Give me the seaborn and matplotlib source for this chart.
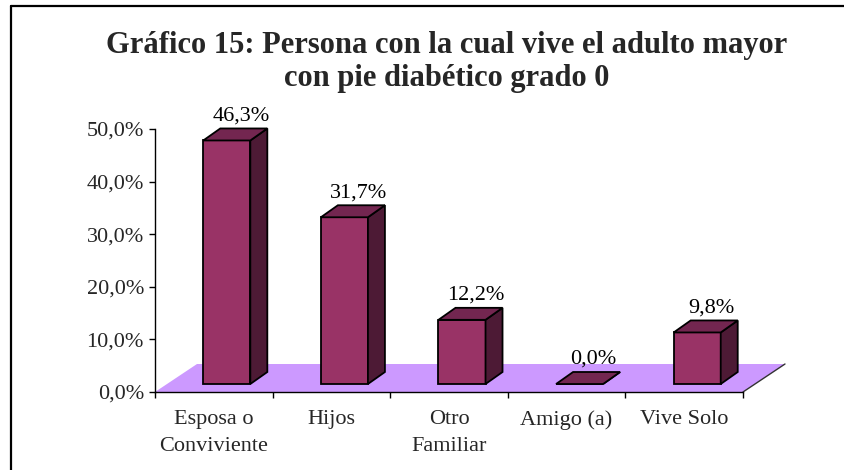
import matplotlib
matplotlib.use("Agg")
import matplotlib.pyplot as plt
import seaborn as sns
from matplotlib.patches import Polygon
from matplotlib.lines import Line2D
from matplotlib.ticker import FixedLocator, FuncFormatter

# Data
categories = ["Esposa o\nConviviente", "Hijos", "Otro\nFamiliar", "Amigo (a)", "Vive Solo"]
values = [46.3, 31.7, 12.2, 0.0, 9.8]
y_ticks = [0, 10, 20, 30, 40, 50]
title = "Gráfico 15: Persona con la cual vive el adulto mayor\ncon pie diabético grado 0"

front_col = "#993366"
side_col = "#4D1A35"
top_col = "#732650"
floor_col = "#CC99FF"

sns.set_style("white")
plt.rcParams["font.family"] = ["Liberation Serif", "DejaVu Serif"]

W, H = 845, 470
fig = plt.figure(figsize=(W / 100, H / 100), dpi=100)
ax = fig.add_axes([155 / W, (H - 392) / H, (743 - 155) / W, 263 / H])

sns.barplot(x=list(range(len(values))), y=values, color=front_col, saturation=1,
            width=0.4, edgecolor="black", linewidth=1.3, ax=ax, zorder=3)
ax.set_xlim(-0.5, len(values) - 0.5)
ax.set_ylim(0, 50)

# pixel -> data conversion
px_x = len(values) / 588.0
px_y = 50 / 263.0

bars = list(ax.patches)

# floor of the 3D plot
fdx, fdy = 42 * px_x, 28 * px_y
floor = Polygon([(-0.5, 0), (4.5, 0), (4.5 + fdx, fdy), (-0.5 + fdx, fdy)],
                closed=True, facecolor=floor_col, edgecolor="none", zorder=1, clip_on=False)
ax.add_patch(floor)
ax.add_line(Line2D([4.5, 4.5 + fdx], [0, fdy], color="#333333", lw=1, zorder=1, clip_on=False))

# shift bars into the middle of the floor depth and add side/top faces
ox, oy = 13 * px_x, 8 * px_y
dx, dy = 17 * px_x, 12 * px_y
for p, v in zip(bars, values):
    p.set_x(p.get_x() + ox)
    p.set_y(oy)
    p.set_clip_on(False)
    x0 = p.get_x()
    x1 = x0 + p.get_width()
    y0 = oy
    y1 = oy + v
    side = Polygon([(x1, y0), (x1 + dx, y0 + dy), (x1 + dx, y1 + dy), (x1, y1)],
                   closed=True, facecolor=side_col, edgecolor="black", lw=1.3, zorder=3, clip_on=False)
    top = Polygon([(x0, y1), (x1, y1), (x1 + dx, y1 + dy), (x0 + dx, y1 + dy)],
                  closed=True, facecolor=top_col, edgecolor="black", lw=1.3, zorder=3, clip_on=False)
    ax.add_patch(side)
    ax.add_patch(top)
    ax.text((x0 + x1) / 2 + 14 * px_x, y1 + dy + 3 * px_y, f"{v:.1f}%".replace(".", ","),
            ha="center", va="bottom", fontsize=16, color="black", zorder=4)

# axes styling
for s in ["top", "right"]:
    ax.spines[s].set_visible(False)
for s in ["left", "bottom"]:
    ax.spines[s].set_color("black")
    ax.spines[s].set_linewidth(1)
    ax.spines[s].set_zorder(2)

ax.set_yticks(y_ticks)
ax.yaxis.set_major_formatter(FuncFormatter(lambda v, _: f"{v:.1f}%".replace(".", ",")))
ax.tick_params(axis="y", direction="out", length=4, width=1, color="black", labelsize=16, pad=4, left=True)

ax.set_xticks(range(len(categories)))
ax.set_xticklabels(categories, fontsize=16, linespacing=1.6)
ax.xaxis.set_minor_locator(FixedLocator([i - 0.5 for i in range(len(categories) + 1)]))
ax.tick_params(axis="x", which="major", length=0, pad=13)
ax.tick_params(axis="x", which="minor", direction="out", length=4, width=1, color="black", bottom=True)
ax.set_xlabel("")
ax.set_ylabel("")
ax.patch.set_alpha(0)

fig.text(447 / W, 1 - 31 / H, title, ha="center", va="top", fontsize=22,
         fontweight="bold", linespacing=1.2)

# chart border (left and top edges visible)
fig.add_artist(Line2D([11 / W, 11 / W], [0, 1 - 6 / H], color="black", lw=1.6))
fig.add_artist(Line2D([11 / W, 1], [1 - 6 / H, 1 - 6 / H], color="black", lw=1.6))

fig.savefig("out.png", dpi=100, facecolor="white")
